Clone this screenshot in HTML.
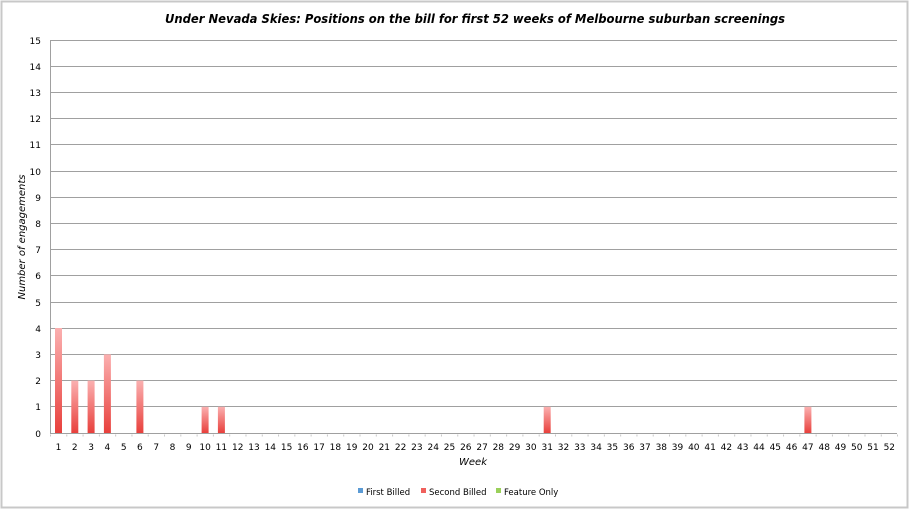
<!DOCTYPE html>
<html><head><meta charset="utf-8"><style>
html,body{margin:0;padding:0;background:#fff}
svg{display:block;font-family:"DejaVu Sans","Liberation Sans",sans-serif}
</style></head><body>
<svg width="911" height="510" viewBox="0 0 911 510" xmlns="http://www.w3.org/2000/svg">
<defs>
<linearGradient id="g" x1="0" y1="0" x2="0" y2="1">
<stop offset="0" stop-color="#fbb0b0"/><stop offset="1" stop-color="#e8403c"/>
</linearGradient>
</defs>
<rect x="1.5" y="1.5" width="906" height="506" fill="#fff" stroke="#c8c8c8" stroke-width="2"/>
<text x="165" y="23" font-size="12" font-weight="bold" font-style="italic" textLength="620" lengthAdjust="spacingAndGlyphs" fill="#000">Under Nevada Skies: Positions on the bill for first 52 weeks of Melbourne suburban screenings</text>
<g stroke="#a0a0a0" stroke-width="1">
<line x1="50" y1="40.5" x2="897" y2="40.5"/><line x1="50" y1="66.5" x2="897" y2="66.5"/>
<line x1="50" y1="92.5" x2="897" y2="92.5"/><line x1="50" y1="118.5" x2="897" y2="118.5"/>
<line x1="50" y1="144.5" x2="897" y2="144.5"/><line x1="50" y1="171.5" x2="897" y2="171.5"/>
<line x1="50" y1="197.5" x2="897" y2="197.5"/><line x1="50" y1="223.5" x2="897" y2="223.5"/>
<line x1="50" y1="249.5" x2="897" y2="249.5"/><line x1="50" y1="275.5" x2="897" y2="275.5"/>
<line x1="50" y1="302.5" x2="897" y2="302.5"/><line x1="50" y1="328.5" x2="897" y2="328.5"/>
<line x1="50" y1="354.5" x2="897" y2="354.5"/><line x1="50" y1="380.5" x2="897" y2="380.5"/>
<line x1="50" y1="406.5" x2="897" y2="406.5"/><line x1="50" y1="433.5" x2="897" y2="433.5"/>
<line x1="50.5" y1="40" x2="50.5" y2="434"/>
</g>
<g stroke="#c8c8c8" stroke-width="1" stroke-dasharray="1 15.29" stroke-dashoffset="0">
<line x1="50" y1="435.5" x2="898" y2="435.5" stroke-width="2"/>
</g>
<g fill="url(#g)">
<rect x="55" y="328" width="7" height="105"/>
<rect x="71.3" y="380.6" width="7" height="52.4"/>
<rect x="87.6" y="380.6" width="7" height="52.4"/>
<rect x="103.9" y="354.4" width="7" height="78.6"/>
<rect x="136.4" y="380.6" width="7" height="52.4"/>
<rect x="201.6" y="406.8" width="7" height="26.2"/>
<rect x="217.9" y="406.8" width="7" height="26.2"/>
<rect x="543.7" y="406.8" width="7" height="26.2"/>
<rect x="804.4" y="406.8" width="7" height="26.2"/>
</g>
<g font-size="9" fill="#000" text-anchor="end">
<text x="41" y="44">15</text><text x="41" y="70">14</text><text x="41" y="96">13</text><text x="41" y="122">12</text><text x="41" y="148">11</text><text x="41" y="175">10</text><text x="41" y="201">9</text><text x="41" y="227">8</text><text x="41" y="253">7</text><text x="41" y="279">6</text><text x="41" y="306">5</text><text x="41" y="332">4</text><text x="41" y="358">3</text><text x="41" y="384">2</text><text x="41" y="410">1</text><text x="41" y="437">0</text>
</g>
<text transform="translate(25,237) rotate(-90)" font-size="10" font-style="italic" text-anchor="middle">Number of engagements</text>
<g font-size="9" fill="#000" text-anchor="middle">
<text x="58.5" y="450">1</text><text x="74.8" y="450">2</text><text x="91.1" y="450">3</text><text x="107.4" y="450">4</text><text x="123.7" y="450">5</text><text x="139.9" y="450">6</text><text x="156.2" y="450">7</text><text x="172.5" y="450">8</text><text x="188.8" y="450">9</text><text x="205.1" y="450">10</text><text x="221.4" y="450">11</text><text x="237.7" y="450">12</text><text x="254" y="450">13</text><text x="270.3" y="450">14</text><text x="286.6" y="450">15</text><text x="302.9" y="450">16</text><text x="319.1" y="450">17</text><text x="335.4" y="450">18</text><text x="351.7" y="450">19</text><text x="368" y="450">20</text><text x="384.3" y="450">21</text><text x="400.6" y="450">22</text><text x="416.9" y="450">23</text><text x="433.2" y="450">24</text><text x="449.5" y="450">25</text><text x="465.8" y="450">26</text><text x="482.1" y="450">27</text><text x="498.3" y="450">28</text><text x="514.6" y="450">29</text><text x="530.9" y="450">30</text><text x="547.2" y="450">31</text><text x="563.5" y="450">32</text><text x="579.8" y="450">33</text><text x="596.1" y="450">34</text><text x="612.4" y="450">35</text><text x="628.7" y="450">36</text><text x="645" y="450">37</text><text x="661.3" y="450">38</text><text x="677.5" y="450">39</text><text x="693.8" y="450">40</text><text x="710.1" y="450">41</text><text x="726.4" y="450">42</text><text x="742.7" y="450">43</text><text x="759" y="450">44</text><text x="775.3" y="450">45</text><text x="791.6" y="450">46</text><text x="807.9" y="450">47</text><text x="824.2" y="450">48</text><text x="840.5" y="450">49</text><text x="856.7" y="450">50</text><text x="873" y="450">51</text><text x="889.3" y="450">52</text>
</g>
<text x="473" y="465" font-size="10" font-style="italic" text-anchor="middle">Week</text>
<g font-size="8.5" fill="#000">
<rect x="358" y="488" width="5" height="5" fill="#5b9bd5"/><text x="366" y="495">First Billed</text>
<rect x="421" y="488" width="5" height="5" fill="#f0605c"/><text x="429" y="495">Second Billed</text>
<rect x="496" y="488" width="5" height="5" fill="#9ad05a"/><text x="504" y="495">Feature Only</text>
</g>
</svg>
</body></html>
